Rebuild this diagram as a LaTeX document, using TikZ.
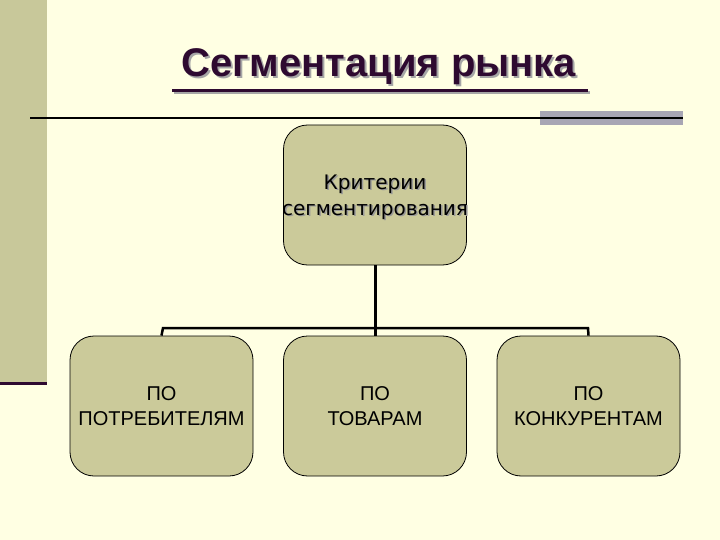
\documentclass[tikz,border=0pt]{standalone}
\usepackage{fontspec}
\setmainfont{Liberation Sans}
\newfontfamily\dvs{DejaVu Sans}
\definecolor{bg}{HTML}{FFFFE3}
\definecolor{bar}{HTML}{C8C89A}
\definecolor{boxf}{HTML}{CBCA9A}
\definecolor{ttl}{HTML}{2E0A30}
\definecolor{grayblk}{HTML}{A8A6B4}
\begin{document}
\begin{tikzpicture}[x=1pt,y=-1pt,
  cbox/.style={draw=black,line width=0.8pt,fill=boxf,rounded corners=24pt,minimum width=183pt,minimum height=140pt,inner sep=0pt,align=center,font=\fontsize{20}{25}\selectfont},
  ttlfont/.style={font=\bfseries\fontsize{40}{44}\selectfont},
  midfont/.style={font=\dvs\fontsize{20}{26}\selectfont,align=center},
  conn/.style={line width=3pt}]
\useasboundingbox (0,0) rectangle (720,540);
\fill[bg] (0,0) rectangle (720,540);
\fill[bar] (0,0) rectangle (47,383);
\draw[ttl,line width=3pt] (0,383) -- (47,383);
\fill[grayblk] (540,111) rectangle (683,125);
\draw[line width=1.5pt] (30,118) -- (683,118);
\node[gray!70,ttlfont] at (381,69) {Сегментация рынка};
\node (title) [ttl,ttlfont] at (379,67) {Сегментация рынка};
\fill[gray!70] (174,91) rectangle (590,94);
\fill[ttl] (172,89) rectangle (588,92);
\node (top) [cbox] at (375,195) {};
\node[gray!80,midfont] at (376.5,198.5) {Критерии\\сегментирования};
\node[midfont] at (375,197) {Критерии\\сегментирования};
\node (a) [cbox] at (161.5,406) {ПО\\ПОТРЕБИТЕЛЯМ};
\node (b) [cbox] at (375,406) {ПО\\ТОВАРАМ};
\node (c) [cbox] at (588.5,406) {ПО\\КОНКУРЕНТАМ};
\draw[conn] (top.south) -- (b.north);
\draw[line width=2.5pt] (a.north) -- (163,328) -- (588,328) -- (c.north);
\end{tikzpicture}
\end{document}
